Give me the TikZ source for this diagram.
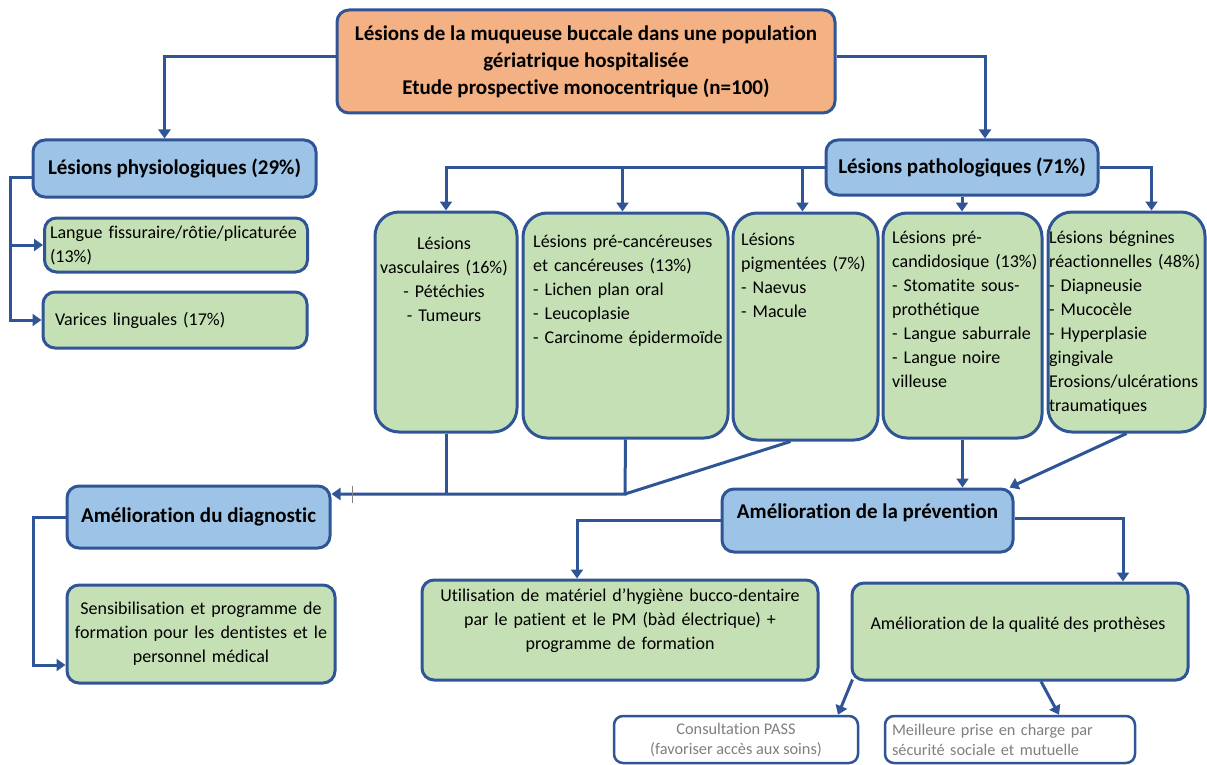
\documentclass[tikz,border=0pt]{standalone}
\usepackage{fontspec}
\setmainfont{Carlito}[Ligatures=CommonOff]
\usetikzlibrary{arrows.meta,calc}
\definecolor{bord}{HTML}{2F5597}
\definecolor{bluef}{HTML}{9DC3E6}
\definecolor{greenf}{HTML}{C5E0B4}
\definecolor{orangef}{HTML}{F4B183}
\definecolor{greytxt}{HTML}{7F7F7F}
\begin{document}
\begin{tikzpicture}[x=1pt,y=-1pt,
  box/.style={draw=bord, line width=3pt, rounded corners=12pt, inner sep=3pt},
  hdr/.style={box, fill=bluef, font=\fontsize{21}{25}\selectfont\bfseries},
  gbox/.style={box, fill=greenf, font=\fontsize{18}{24}\selectfont},
  tall/.style={box, fill=greenf, rounded corners=24pt},
  wbox/.style={box, fill=white, line width=2.5pt, rounded corners=9pt, text=greytxt, font=\fontsize{16.3}{20}\selectfont},
  txt/.style={inner sep=0pt, font=\fontsize{18}{24}\selectfont},
  conn/.style={draw=bord, line width=3pt},
  arr/.style={conn, -{Triangle[width=12pt,length=9pt]}},
]
\useasboundingbox (0,0) rectangle (1207,765);

% top
\node[box, fill=orangef, minimum width=498pt, minimum height=103pt, align=center,
      font=\fontsize{21}{27}\selectfont\bfseries] (top) at (586,61.5)
  {Lésions de la muqueuse buccale dans une population\\gériatrique hospitalisée\\Etude prospective monocentrique (n=100)};

% left branch
\node[hdr, minimum width=283pt, minimum height=57pt] (phys) at (174.5,168.5) {Lésions physiologiques (29\%)};
\node[gbox, minimum width=263pt, minimum height=54pt, text width=252pt, inner sep=2pt, align=left] (langue) at (176,245)
  {Langue fissuraire/rôtie/plicaturée\\(13\%)};
\node[gbox, minimum width=264pt, minimum height=56pt, text width=240pt, align=left] (varices) at (175,320)
  {Varices linguales (17\%)};

% right header
\node[hdr, minimum width=272pt, minimum height=55pt] (patho) at (962,167.5) {Lésions pathologiques (71\%)};

% tall boxes
\node[tall, minimum width=142pt, minimum height=220pt] (vasc) at (446,322) {};
\node[tall, minimum width=205pt, minimum height=225pt] (precanc) at (625.5,325.5) {};
\node[tall, minimum width=145pt, minimum height=227pt] (pigm) at (805.5,326.5) {};
\node[tall, minimum width=159pt, minimum height=225pt] (precand) at (962.5,325.5) {};
\node[tall, minimum width=157pt, minimum height=220pt] (begn) at (1126.5,322) {};

\node[txt, anchor=north, align=center, text width=140pt] (vasct) at (444,237)
  {Lésions\\vasculaires (16\%)\\- Pétéchies\\- Tumeurs};
\node[txt, anchor=north west, align=left, text width=200pt] (precanct) at (533,235)
  {Lésions pré-cancéreuses\\et cancéreuses (13\%)\\- Lichen plan oral\\- Leucoplasie\\- Carcinome épidermoïde};
\node[txt, anchor=north west, align=left, text width=140pt] (pigmt) at (741,233)
  {Lésions\\pigmentées (7\%)\\- Naevus\\- Macule};
\node[txt, anchor=north west, align=left, text width=155pt] (precandt) at (892,231)
  {Lésions pré-\\candidosique (13\%)\\- Stomatite sous-\\prothétique\\- Langue saburrale\\- Langue noire\\villeuse};
\node[txt, anchor=north west, align=left, text width=165pt] (begnt) at (1049,231)
  {Lésions bégnines\\réactionnelles (48\%)\\- Diapneusie\\- Mucocèle\\- Hyperplasie\\gingivale\\Erosions/ulcérations\\traumatiques};

% lower level
\node[hdr, minimum width=263pt, minimum height=62pt] (diag) at (198.5,517) {Amélioration du diagnostic};
\node[gbox, minimum width=268pt, minimum height=98pt, text width=262pt, align=center] (sensib) at (201,634)
  {Sensibilisation et programme de\\formation pour les dentistes et le\\personnel médical};
\node[hdr, minimum width=291pt, minimum height=63pt] (prev) at (867.5,520.5) {};
\node[inner sep=0pt, font=\fontsize{21}{25}\selectfont\bfseries] (prevt) at (867.5,513) {Amélioration de la prévention};
\node[gbox, minimum width=396pt, minimum height=100pt] (util) at (620,630) {};
\node[txt, align=center, text width=390pt] (utilt) at (620,621)
  {Utilisation de matériel d’hygiène bucco-dentaire\\par le patient et le PM (bàd électrique) +\\programme de formation};
\node[gbox, minimum width=336pt, minimum height=97pt] (qual) at (1020,631.5) {};
\node[txt] (qualt) at (1018,625) {Amélioration de la qualité des prothèses};

\node[wbox, minimum width=244pt, minimum height=47pt, align=center] (pass) at (736,739.5)
  {Consultation PASS\\(favoriser accès aux soins)};
\node[wbox, minimum width=250pt, minimum height=47pt, text width=236pt, align=left] (meil) at (1010,739.5)
  {Meilleure prise en charge par\\sécurité sociale et mutuelle};

% connectors
\draw[arr] ($(top.west)+(0,-5)$) -| ([xshift=-10pt]phys.north);
\draw[arr] ($(top.east)+(0,-5)$) -| ([xshift=23pt]patho.north);
\draw[arr] (patho.west) -| (vasc.north);
\draw[arr] ([xshift=-3pt]precanc.north |- patho.west) -- ([xshift=-3pt]precanc.north);
\draw[arr] ([xshift=-3pt]pigm.north |- patho.west) -- ([xshift=-3pt]pigm.north);
\draw[arr] (patho.east) -| ([xshift=25pt]begn.north);
\draw[arr] (patho.south) -- (patho.south |- precand.north);

\draw[arr] ($(phys.west)+(0,9)$) -- ++(-21,0) |- (langue.west);
\draw[arr] ($(phys.west)+(0,9)$) -- ++(-21,0) |- (varices.west);

\coordinate (j) at (625,494);
\draw[conn] (vasc.south) -- (vasc.south |- j);
\draw[conn] ([xshift=-15pt]pigm.south) -- (j);
\draw[arr] (precanc.south) -- (j) -- (diag.east |- j);
\draw[gray, line width=0.8pt] (352,486) -- (352,503);

\draw[arr] (precand.south) -- (precand.south |- prev.north);
\draw[arr] (begn.south) -- ([xshift=-5pt]prev.north east);

\draw[arr] (diag.west) -- ++(-32,0) |- ($(sensib.west)+(0,31)$);
\draw[arr] (prev.west) -| ([xshift=-43pt]util.north);
\draw[arr] ($(prev.east)+(0,-2)$) -| ([xshift=103pt]qual.north);
\draw[arr] ($(qual.south west)+(2,-2)$) -- ($(pass.north)+(102,0)$);
\draw[arr] ($(qual.south)+(21,0)$) -- ($(meil.north)+(49,0)$);
\end{tikzpicture}
\end{document}
